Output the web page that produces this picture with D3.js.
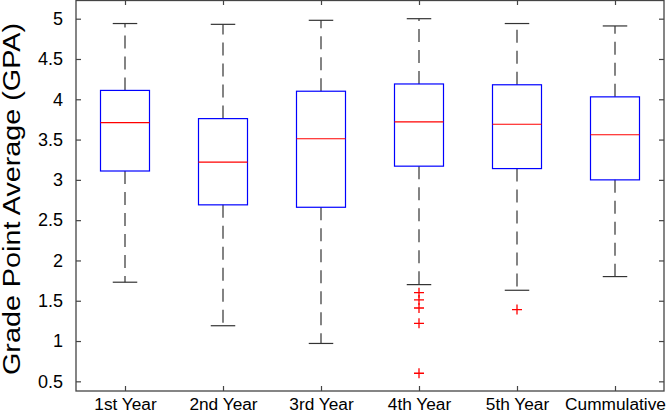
<!DOCTYPE html>
<html>
<head>
<meta charset="utf-8">
<script src="https://cdn.jsdelivr.net/npm/d3@7"></script>
<style>
body { margin:0; background:#fff; }
text { font-family: "Liberation Sans", Arial, sans-serif; }
</style>
</head>
<body>
<svg id="chart"></svg>
<script>
var categories = ["1st Year","2nd Year","3rd Year","4th Year","5th Year","Cummulative"]
var lowerWhisker = [1.73, 1.19, 0.97, 1.70, 1.63, 1.80]
var q1 = [3.11, 2.69, 2.66, 3.17, 3.14, 3.00]
var medians = [3.71, 3.22, 3.51, 3.72, 3.69, 3.56]
var q3 = [4.11, 3.76, 4.10, 4.19, 4.18, 4.03]
var upperWhisker = [4.94, 4.93, 4.98, 5.00, 4.94, 4.91]
var outliers = [[], [], [], [1.60, 1.51, 1.41, 1.22, 0.60], [1.39], []]
var yTicks = [0.5, 1, 1.5, 2, 2.5, 3, 3.5, 4, 4.5, 5]

var screen = {width:666, height:416}
var margins = {top:0, right:2, left:76, bottom:25}

var width = screen.width - margins.left - margins.right
var height = screen.height - margins.top - margins.bottom

var svg = d3.select("#chart")
    .attr("width", screen.width)
    .attr("height", screen.height)

var g = svg.append("g")
    .attr("transform", "translate(" + margins.left + "," + margins.top + ")")

var xScale = d3.scaleLinear().domain([0.5, 6.5]).range([0, width])
var yScale = d3.scaleLinear().domain([0.38, 5.232]).range([height, 0])

var boxes = categories.map(function(c, i){
    return {name:c, pos:i+1, lo:lowerWhisker[i], q1:q1[i], med:medians[i], q3:q3[i], hi:upperWhisker[i], out:outliers[i]}
})

var boxHalf = (xScale(1.25) - xScale(1)) 
var capHalf = (xScale(1.125) - xScale(1))

// whiskers (dashed)
var groups = g.selectAll(".box").data(boxes).enter().append("g").attr("class","box")

groups.append("line")
    .attr("x1", function(d){ return xScale(d.pos) })
    .attr("x2", function(d){ return xScale(d.pos) })
    .attr("y1", function(d){ return yScale(d.q3) })
    .attr("y2", function(d){ return yScale(d.hi) })
    .attr("stroke", "#333").attr("stroke-width", 1.2)
    .attr("stroke-dasharray", "13,8")

groups.append("line")
    .attr("x1", function(d){ return xScale(d.pos) })
    .attr("x2", function(d){ return xScale(d.pos) })
    .attr("y1", function(d){ return yScale(d.q1) })
    .attr("y2", function(d){ return yScale(d.lo) })
    .attr("stroke", "#333").attr("stroke-width", 1.2)
    .attr("stroke-dasharray", "13,8")

// caps
groups.selectAll(".cap")
    .data(function(d){ return [{pos:d.pos, v:d.hi}, {pos:d.pos, v:d.lo}] })
    .enter().append("line")
    .attr("class","cap")
    .attr("x1", function(d){ return xScale(d.pos) - capHalf })
    .attr("x2", function(d){ return xScale(d.pos) + capHalf })
    .attr("y1", function(d){ return yScale(d.v) })
    .attr("y2", function(d){ return yScale(d.v) })
    .attr("stroke", "#333").attr("stroke-width", 1.2)

// boxes
groups.append("rect")
    .attr("x", function(d){ return xScale(d.pos) - boxHalf })
    .attr("width", boxHalf*2)
    .attr("y", function(d){ return yScale(d.q3) })
    .attr("height", function(d){ return yScale(d.q1) - yScale(d.q3) })
    .attr("fill", "none").attr("stroke", "#0000ff").attr("stroke-width", 1.2)

groups.append("line")
    .attr("x1", function(d){ return xScale(d.pos) - boxHalf })
    .attr("x2", function(d){ return xScale(d.pos) + boxHalf })
    .attr("y1", function(d){ return yScale(d.med) })
    .attr("y2", function(d){ return yScale(d.med) })
    .attr("stroke", "#ff0000").attr("stroke-width", 1.2)

// outliers as red plus signs
groups.selectAll(".out")
    .data(function(d){ return d.out.map(function(v){ return {pos:d.pos, v:v} }) })
    .enter().append("path")
    .attr("class","out")
    .attr("transform", function(d){ return "translate(" + xScale(d.pos) + "," + yScale(d.v) + ")" })
    .attr("d", "M-5,0H5M0,-5V5")
    .attr("stroke", "#ff0000").attr("stroke-width", 1.3)
    .attr("fill", "none")

// axes, ticks pointing inward on all sides
var axisColor = "#444"
var xAxis = d3.axisBottom(xScale).tickValues(d3.range(1,7)).tickFormat(function(d){ return categories[d-1] }).tickSizeInner(-5).tickSizeOuter(0).tickPadding(7)
var yAxis = d3.axisLeft(yScale).tickValues(yTicks).tickFormat(function(d){ return String(d) }).tickSizeInner(-5).tickSizeOuter(0).tickPadding(13)

var xg = g.append("g").attr("transform", "translate(0," + height + ")").call(xAxis)
var yg = g.append("g").call(yAxis)
g.append("g").call(d3.axisTop(xScale).tickValues(d3.range(1,7)).tickFormat("").tickSizeInner(-5).tickSizeOuter(0))
g.append("g").attr("transform", "translate(" + width + ",0)")
    .call(d3.axisRight(yScale).tickValues(yTicks).tickFormat("").tickSizeInner(-5).tickSizeOuter(0))

g.selectAll(".domain").remove()
g.selectAll(".tick line").attr("stroke", axisColor).attr("stroke-width", 1.2)
g.selectAll(".tick text").attr("font-size", 18).attr("fill", "#000")
    .style("font-family", "'Liberation Sans', Arial, sans-serif")
xg.selectAll(".tick text").attr("font-size", 17.3)

g.append("rect")
    .attr("x", 0).attr("y", 0.5)
    .attr("width", width).attr("height", height - 0.5)
    .attr("fill", "none").attr("stroke", axisColor).attr("stroke-width", 1.3)

svg.append("text")
    .attr("transform", "translate(12," + 199 + ") rotate(-90)")
    .attr("text-anchor", "middle")
    .attr("dy", "0.35em")
    .attr("font-size", 23)
    .attr("textLength", 352)
    .attr("lengthAdjust", "spacingAndGlyphs")
    .text("Grade Point Average (GPA)")
</script>
</body>
</html>
